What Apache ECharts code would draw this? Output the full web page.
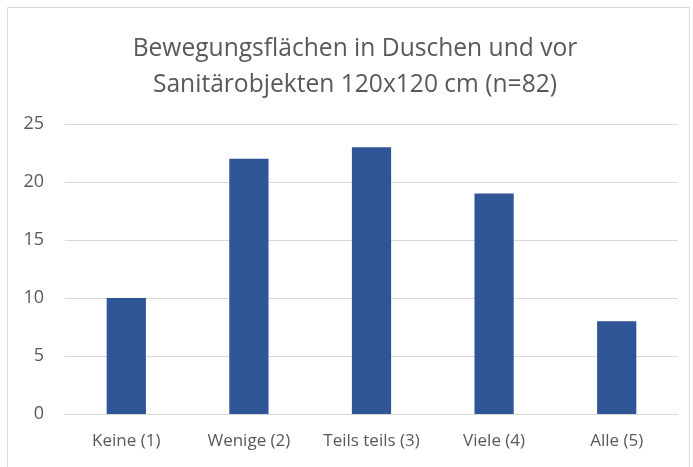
<!DOCTYPE html>
<html>
<head>
<meta charset="utf-8">
<script src="https://cdn.jsdelivr.net/npm/echarts@6/dist/echarts.min.js"></script>
<style>
  html, body { margin: 0; padding: 0; background: #fff; }
  #chart { width: 693px; height: 467px; }
</style>
</head>
<body>
<div id="chart"></div>
<script>
// Kategorien und Werte aus dem Diagramm
const categories = ['Keine (1)', 'Wenige (2)', 'Teils teils (3)', 'Viele (4)', 'Alle (5)'];
const counts = [10, 22, 23, 19, 8];
const titleText = 'Bewegungsflächen in Duschen und vor\nSanitärobjekten 120x120 cm (n=82)';

const chart = echarts.init(document.getElementById('chart'));
chart.setOption({
  backgroundColor: '#fff',
  animation: false,
  textStyle: { fontFamily: 'Open Sans' },
  graphic: [{
    type: 'rect',
    shape: { x: 7.5, y: 7.5, width: 682, height: 480 },
    style: { fill: 'none', stroke: '#d9d9d9', lineWidth: 1 },
    silent: true
  }],
  title: {
    text: titleText,
    left: 350,
    textAlign: 'center',
    top: 26,
    textStyle: {
      fontFamily: 'Open Sans',
      fontSize: 24.6,
      fontWeight: 'normal',
      color: '#595959',
      lineHeight: 36
    }
  },
  grid: { left: 65, right: 15, top: 124, bottom: 53 },
  xAxis: {
    type: 'category',
    data: categories,
    axisTick: { show: false },
    axisLine: { lineStyle: { color: '#d9d9d9' } },
    axisLabel: { color: '#595959', fontSize: 17, margin: 19, interval: 0 }
  },
  yAxis: {
    type: 'value',
    min: 0,
    max: 25,
    interval: 5,
    axisLine: { show: false },
    axisTick: { show: false },
    splitLine: { lineStyle: { color: '#d9d9d9' } },
    axisLabel: { color: '#595959', fontSize: 18, margin: 21 }
  },
  series: [{
    type: 'bar',
    data: counts,
    barWidth: '32%',
    itemStyle: { color: '#2f5597' }
  }]
});
</script>
</body>
</html>
